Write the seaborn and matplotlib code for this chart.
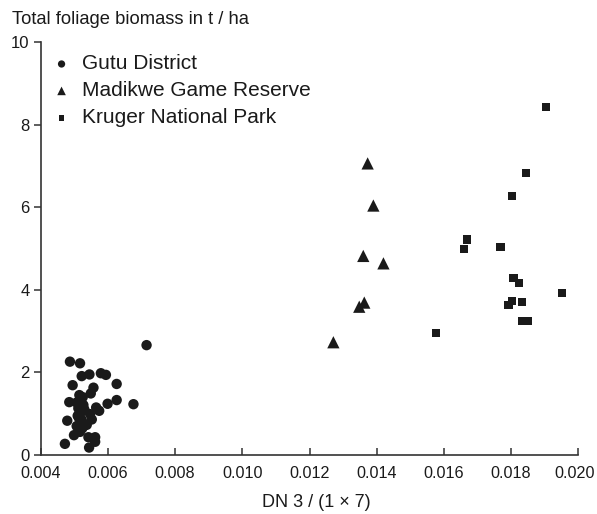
import numpy as np
import pandas as pd
import matplotlib
matplotlib.use("Agg")
import matplotlib.pyplot as plt
import matplotlib.transforms as mtransforms
import seaborn as sns

# Data
gutu_x = [0.00715, 0.00487, 0.00517, 0.00522, 0.00545, 0.00579, 0.00594, 0.00626,
          0.00495, 0.00557, 0.00549, 0.00515, 0.00525, 0.00626, 0.00485, 0.00507,
          0.00527, 0.00599, 0.00676, 0.00512, 0.00565, 0.00574, 0.00522, 0.00547,
          0.00514, 0.00552, 0.00479, 0.00522, 0.00537, 0.00507, 0.00524, 0.00499,
          0.00517, 0.00542, 0.00562, 0.00562, 0.00472, 0.00544, 0.00530, 0.00510]
gutu_y = [2.66, 2.26, 2.22, 1.91, 1.95, 1.98, 1.94, 1.72,
          1.69, 1.63, 1.49, 1.45, 1.40, 1.33, 1.28, 1.27,
          1.21, 1.24, 1.23, 1.13, 1.15, 1.07, 1.05, 0.99,
          0.89, 0.86, 0.83, 0.85, 0.73, 0.70, 0.65, 0.48,
          0.56, 0.43, 0.43, 0.32, 0.27, 0.18, 1.10, 0.95]

madikwe_x = [0.01373, 0.01390, 0.01360, 0.01420, 0.01363, 0.01348, 0.01271]
madikwe_y = [7.06, 6.04, 4.82, 4.64, 3.69, 3.59, 2.73]

kruger_x = [0.01904, 0.01844, 0.01803, 0.01668, 0.01660, 0.01768, 0.01807, 0.01824,
            0.01952, 0.01803, 0.01792, 0.01832, 0.01832, 0.01850, 0.01576]
kruger_y = [8.43, 6.82, 6.27, 5.22, 4.99, 5.04, 4.28, 4.16,
            3.93, 3.73, 3.63, 3.71, 3.24, 3.24, 2.96]

sites = ["Gutu District", "Madikwe Game Reserve", "Kruger National Park"]
x_ticks = [0.004, 0.006, 0.008, 0.010, 0.012, 0.014, 0.016, 0.018, 0.020]
x_tick_labels = ["0.004", "0.006", "0.008", "0.010", "0.012", "0.014", "0.016", "0.018", "0.020"]
y_ticks = [0, 2, 4, 6, 8, 10]

df = pd.DataFrame({
    "x": gutu_x + madikwe_x + kruger_x,
    "y": gutu_y + madikwe_y + kruger_y,
    "site": [sites[0]] * len(gutu_x) + [sites[1]] * len(madikwe_x) + [sites[2]] * len(kruger_x),
})

sns.set_theme(style="white")
plt.rcParams["font.family"] = ["Liberation Sans", "DejaVu Sans"]

fig = plt.figure(figsize=(5.97, 5.14), dpi=100)
ax = fig.add_axes([0.0682, 0.1148, 0.9687 - 0.0682, 0.9183 - 0.1148])

ink = "#1a1a1a"
markers = {sites[0]: "o", sites[1]: "^", sites[2]: "s"}
sizes = {sites[0]: 56, sites[1]: 78, sites[2]: 36}
for site in sites:
    sub = df[df["site"] == site]
    sns.scatterplot(data=sub, x="x", y="y", marker=markers[site], s=sizes[site],
                    color=ink, edgecolor="none", linewidth=0, label=site, ax=ax)

ax.set_xlim(0.004, 0.020)
ax.set_ylim(0, 10)
ax.set_xticks(x_ticks)
ax.set_xticklabels(x_tick_labels)
ax.set_yticks(y_ticks)
ax.set_xlabel("DN 3 / (1 × 7)", fontsize=13, color=ink)
ax.xaxis.set_label_coords(0.512, -0.095)
ax.set_ylabel("")
fig.text(12 / 597, 1 - 19 / 514, "Total foliage biomass in t / ha", fontsize=13.2,
         color=ink, ha="left", va="center")

for s in ["top", "right"]:
    ax.spines[s].set_visible(False)
for s in ["left", "bottom"]:
    ax.spines[s].set_color("#333333")
    ax.spines[s].set_linewidth(1.2)

ax.tick_params(axis="x", direction="in", length=5, width=1.1, colors="#333333",
               labelcolor=ink, labelsize=11.6, pad=8)
ax.tick_params(axis="y", direction="out", length=5, width=1.1, colors="#333333",
               labelcolor=ink, labelsize=12, pad=3, left=True)
ax.tick_params(axis="x", bottom=True)

# nudge the last x tick label slightly left so it stays inside the figure
last = ax.get_xticklabels()[-1]
last.set_transform(last.get_transform() +
                   mtransforms.ScaledTranslation(-4 / 100, 0, fig.dpi_scale_trans))

leg = ax.legend(loc="upper left", bbox_to_anchor=(0.0, 0.99), frameon=False,
                fontsize=15, markerscale=0.7, handlelength=1.2, handletextpad=0.4,
                labelspacing=0.38, borderaxespad=0.0, labelcolor=ink)

fig.savefig("out.png", dpi=100)
